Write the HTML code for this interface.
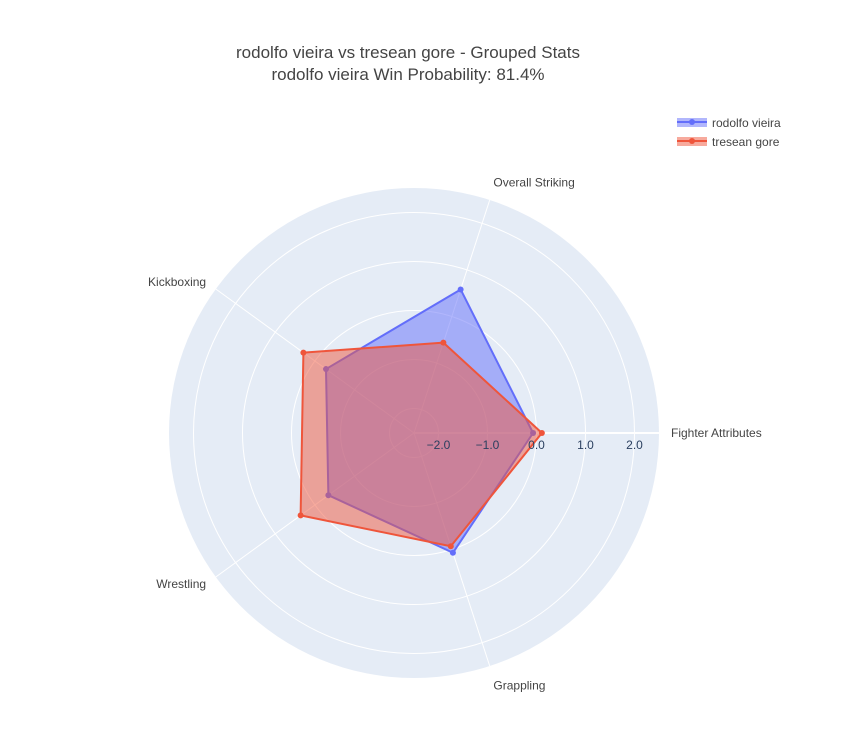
<!DOCTYPE html>
<html><head><meta charset="utf-8"><style>
body{margin:0;background:#fff;font-family:"Liberation Sans",sans-serif;}
svg text{font-family:"Liberation Sans",sans-serif;}
</style></head><body>
<svg width="849" height="724">
<rect width="849" height="724" fill="#fff"/>
<text x="408" y="58" text-anchor="middle" font-size="17" fill="#444">rodolfo vieira vs tresean gore - Grouped Stats</text>
<text x="408" y="80" text-anchor="middle" font-size="17" fill="#444">rodolfo vieira Win Probability: 81.4%</text>
<g id="polar"></g>
<g>
 <g>
  <rect x="677" y="118" width="30" height="9" fill="rgba(99,110,250,0.5)"/>
  <line x1="677" y1="122" x2="707" y2="122" stroke="#636efa" stroke-width="2"/>
  <circle cx="692" cy="122" r="3" fill="#636efa"/>
  <text x="712" y="127" font-size="12" fill="#444">rodolfo vieira</text>
 </g>
 <g>
  <rect x="677" y="137" width="30" height="9" fill="rgba(239,85,59,0.5)"/>
  <line x1="677" y1="141" x2="707" y2="141" stroke="#ef553b" stroke-width="2"/>
  <circle cx="692" cy="141" r="3" fill="#ef553b"/>
  <text x="712" y="146" font-size="12" fill="#444">tresean gore</text>
 </g>
</g>
</svg>
<script>
const categories=["Fighter Attributes","Overall Striking","Kickboxing","Wrestling","Grappling"];
const seriesNames=["rodolfo vieira","tresean gore"];
const rodolfoValues=[-0.07,0.58,-0.28,-0.34,0.07];
const treseanValues=[0.11,-0.56,0.29,0.36,-0.07];
const tickLabels=["−2.0","−1.0","0.0","1.0","2.0"];
const tickValues=[-2,-1,0,1,2];
const cx=414,cy=433,R=245,rMin=-2.5,rMax=2.5;
const NS="http://www.w3.org/2000/svg";
const g=document.getElementById('polar');
function rad(v){return (v-rMin)/(rMax-rMin)*R;}
function ang(i){return i*2*Math.PI/categories.length;}
function pt(i,v){const r=rad(v),a=ang(i);return [cx+r*Math.cos(a),cy-r*Math.sin(a)];}
function mk(t,a){const e=document.createElementNS(NS,t);for(const k in a)e.setAttribute(k,a[k]);g.appendChild(e);return e;}
let bg=mk('circle',{cx:cx,cy:cy,r:R,fill:'#e5ecf6'});


tickValues.forEach(v=>{let c=mk('circle',{cx:cx,cy:cy,r:rad(v),fill:'none',stroke:'#fff','stroke-width':1});

});
categories.forEach((c,i)=>{const a=ang(i);
let l=mk('line',{x1:cx,y1:cy,x2:cx+R*Math.cos(a),y2:cy-R*Math.sin(a),stroke:'#fff','stroke-width':1});


const lx=cx+(R+12)*Math.cos(a),ly=cy-(R+12)*Math.sin(a);
const c0=Math.cos(a);
let t=mk('text',{x:lx,y:ly+4,'font-size':12,fill:'#444','text-anchor':c0>0.3?'start':(c0<-0.3?'end':'middle')});
if(Math.abs(c0)<0.4){t.setAttribute('y',Math.sin(a)>0?ly-2:ly+12);}
t.textContent=c;

});
let ax=mk('line',{x1:cx,y1:cy,x2:cx+R,y2:cy,stroke:'#fff','stroke-width':2});


function series(vals,col,fill,name){
 const pts=vals.map((v,i)=>pt(i,v));
 let p=mk('polygon',{points:pts.map(p=>p.join(',')).join(' '),fill:fill,stroke:col,'stroke-width':2,'stroke-linejoin':'round'});
 
 
 pts.forEach(q=>{let c=mk('circle',{cx:q[0],cy:q[1],r:3,fill:col});
 
 });
}
series(rodolfoValues,'#636efa','rgba(99,110,250,0.5)','rodolfo');
series(treseanValues,'#ef553b','rgba(239,85,59,0.5)','tresean');
tickValues.forEach((v,i)=>{let t=mk('text',{x:cx+rad(v),y:cy+16,'font-size':12,fill:'#2a3f5f','text-anchor':'middle'});
t.textContent=tickLabels[i];

});
</script>
</body></html>
